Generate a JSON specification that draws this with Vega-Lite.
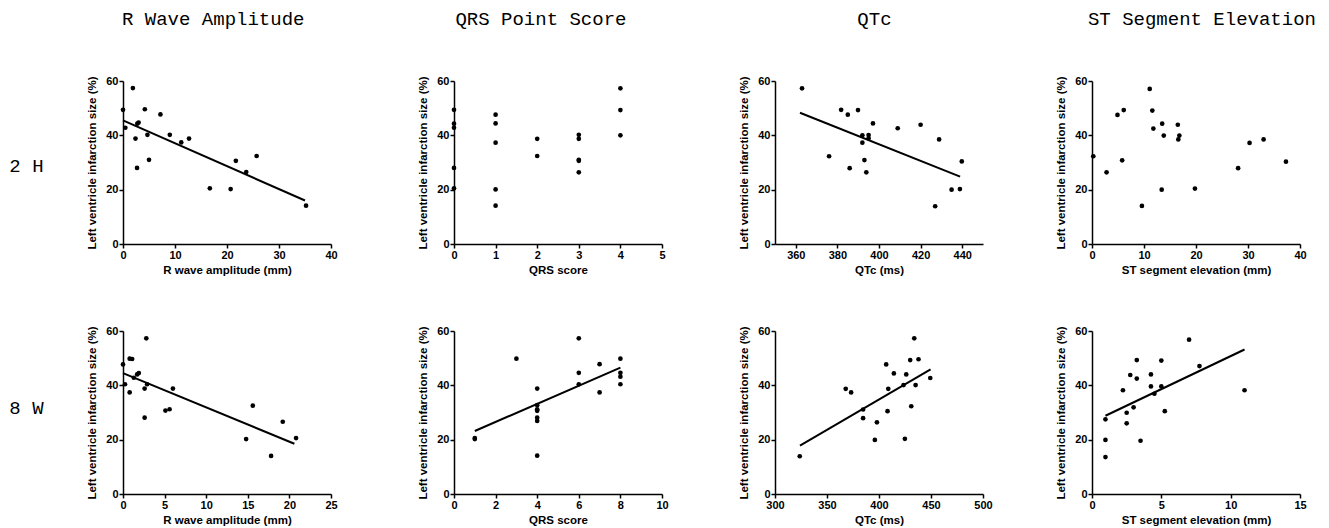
{
  "$schema": "https://vega.github.io/schema/vega-lite/v6.json",
  "padding": {"left": 9, "top": 10, "right": 0, "bottom": 0},
  "background": "white",
  "config": {
    "view": {"stroke": null},
    "axis": {"grid": false, "domainColor": "black", "domainWidth": 1.5, "tickColor": "black", "tickWidth": 1.5, "tickSize": 4, "labelFont": "Liberation Sans", "labelFontWeight": "bold", "labelFontSize": 11, "labelColor": "black", "labelPadding": 1, "titleFont": "Liberation Sans", "titleFontWeight": "bold", "titleFontSize": 11.5, "titleColor": "black"},
    "axisX": {"titlePadding": 4, "labelFlush": false},
    "axisY": {"titlePadding": 8},
    "title": {"font": "Liberation Mono", "fontSize": 19, "fontWeight": "normal", "color": "black"}
  },
  "datasets": {
    "rwave2h": [
      {"value": 0, "infarct": 49.4}, {"value": 1.9, "infarct": 57.4}, {"value": 0.45, "infarct": 42.8}, {"value": 4.2, "infarct": 49.6},
      {"value": 2.75, "infarct": 44.3}, {"value": 3.0, "infarct": 44.7}, {"value": 2.4, "infarct": 38.8}, {"value": 4.7, "infarct": 40.2},
      {"value": 7.2, "infarct": 47.7}, {"value": 9.0, "infarct": 40.2}, {"value": 11.2, "infarct": 37.4}, {"value": 12.7, "infarct": 38.8},
      {"value": 5.0, "infarct": 31.0}, {"value": 2.7, "infarct": 28.0}, {"value": 16.7, "infarct": 20.5}, {"value": 20.7, "infarct": 20.2},
      {"value": 21.7, "infarct": 30.6}, {"value": 23.7, "infarct": 26.5}, {"value": 25.7, "infarct": 32.4}, {"value": 35.2, "infarct": 14.1}
    ],
    "rwave2h_fit": [{"value": 0, "infarct": 45.5}, {"value": 35, "infarct": 16.0}],
    "qrs2h": [
      {"value": 0, "infarct": 49.4}, {"value": 0, "infarct": 44.3}, {"value": 0, "infarct": 42.8}, {"value": 0, "infarct": 28.0}, {"value": 0, "infarct": 20.5},
      {"value": 1, "infarct": 47.6}, {"value": 1, "infarct": 44.4}, {"value": 1, "infarct": 37.3}, {"value": 1, "infarct": 20.1}, {"value": 1, "infarct": 14.1},
      {"value": 2, "infarct": 38.7}, {"value": 2, "infarct": 32.4},
      {"value": 3, "infarct": 40.2}, {"value": 3, "infarct": 38.7}, {"value": 3, "infarct": 31.0}, {"value": 3, "infarct": 30.6}, {"value": 3, "infarct": 26.4},
      {"value": 4, "infarct": 57.3}, {"value": 4, "infarct": 49.3}, {"value": 4, "infarct": 40.0}
    ],
    "qtc2h": [
      {"value": 363, "infarct": 57.3}, {"value": 376, "infarct": 32.3}, {"value": 381.8, "infarct": 49.4}, {"value": 385, "infarct": 47.6},
      {"value": 385.9, "infarct": 27.9}, {"value": 389.9, "infarct": 49.3}, {"value": 392, "infarct": 40.0}, {"value": 392, "infarct": 37.3},
      {"value": 393, "infarct": 30.9}, {"value": 393.9, "infarct": 26.4}, {"value": 395, "infarct": 40.1}, {"value": 395, "infarct": 38.9},
      {"value": 397.1, "infarct": 44.4}, {"value": 409, "infarct": 42.6}, {"value": 420, "infarct": 43.9}, {"value": 427, "infarct": 13.9},
      {"value": 428.9, "infarct": 38.5}, {"value": 434.9, "infarct": 20.0}, {"value": 438.9, "infarct": 20.2}, {"value": 439.8, "infarct": 30.4}
    ],
    "qtc2h_fit": [{"value": 362, "infarct": 48.3}, {"value": 439, "infarct": 24.8}],
    "st2h": [
      {"value": 0.25, "infarct": 32.3}, {"value": 2.8, "infarct": 26.4}, {"value": 4.9, "infarct": 47.5}, {"value": 5.8, "infarct": 30.8},
      {"value": 6.1, "infarct": 49.3}, {"value": 9.6, "infarct": 14.0}, {"value": 11.1, "infarct": 57.1}, {"value": 11.6, "infarct": 49.1},
      {"value": 11.8, "infarct": 42.5}, {"value": 13.4, "infarct": 20.0}, {"value": 13.5, "infarct": 44.3}, {"value": 13.8, "infarct": 39.9},
      {"value": 16.5, "infarct": 43.9}, {"value": 16.6, "infarct": 38.5}, {"value": 16.8, "infarct": 39.9}, {"value": 19.8, "infarct": 20.4},
      {"value": 28.1, "infarct": 27.9}, {"value": 30.3, "infarct": 37.2}, {"value": 33.0, "infarct": 38.5}, {"value": 37.3, "infarct": 30.3}
    ],
    "rwave8w": [
      {"value": 0, "infarct": 47.7}, {"value": 0.24, "infarct": 40.4}, {"value": 0.8, "infarct": 49.8}, {"value": 1.1, "infarct": 49.7},
      {"value": 0.8, "infarct": 37.4}, {"value": 1.3, "infarct": 42.8}, {"value": 1.7, "infarct": 44.0}, {"value": 1.9, "infarct": 44.5},
      {"value": 2.8, "infarct": 57.3}, {"value": 2.6, "infarct": 38.8}, {"value": 2.9, "infarct": 40.4}, {"value": 2.6, "infarct": 28.1},
      {"value": 5.1, "infarct": 30.7}, {"value": 5.6, "infarct": 31.2}, {"value": 6.0, "infarct": 38.8}, {"value": 14.8, "infarct": 20.2},
      {"value": 15.6, "infarct": 32.5}, {"value": 17.8, "infarct": 14.0}, {"value": 19.2, "infarct": 26.6}, {"value": 20.8, "infarct": 20.6}
    ],
    "rwave8w_fit": [{"value": 0, "infarct": 44.5}, {"value": 20.6, "infarct": 18.5}],
    "qrs8w": [
      {"value": 1, "infarct": 20.2}, {"value": 1, "infarct": 20.6}, {"value": 3, "infarct": 49.8},
      {"value": 4, "infarct": 38.8}, {"value": 4, "infarct": 32.7}, {"value": 4, "infarct": 31.2}, {"value": 4, "infarct": 30.6}, {"value": 4, "infarct": 28.1}, {"value": 4, "infarct": 26.9}, {"value": 4, "infarct": 14.1},
      {"value": 6, "infarct": 57.3}, {"value": 6, "infarct": 44.6}, {"value": 6, "infarct": 40.4},
      {"value": 7, "infarct": 47.8}, {"value": 7, "infarct": 37.4},
      {"value": 8, "infarct": 49.8}, {"value": 8, "infarct": 44.6}, {"value": 8, "infarct": 43.2}, {"value": 8, "infarct": 40.4}
    ],
    "qrs8w_fit": [{"value": 1, "infarct": 23.2}, {"value": 8, "infarct": 46.5}],
    "qtc8w": [
      {"value": 323.8, "infarct": 13.9}, {"value": 368, "infarct": 38.7}, {"value": 373.2, "infarct": 37.4}, {"value": 384.7, "infarct": 31.1},
      {"value": 384.7, "infarct": 27.9}, {"value": 396, "infarct": 19.9}, {"value": 398, "infarct": 26.4}, {"value": 406.9, "infarct": 47.7},
      {"value": 408.9, "infarct": 38.7}, {"value": 408.2, "infarct": 30.5}, {"value": 414.3, "infarct": 44.4}, {"value": 423.6, "infarct": 40.1},
      {"value": 426.2, "infarct": 44.0}, {"value": 424.9, "infarct": 20.3}, {"value": 430, "infarct": 49.3}, {"value": 431, "infarct": 32.3},
      {"value": 433.9, "infarct": 57.3}, {"value": 435.2, "infarct": 40.1}, {"value": 438, "infarct": 49.6}, {"value": 449.3, "infarct": 42.7}
    ],
    "qtc8w_fit": [{"value": 324, "infarct": 17.8}, {"value": 449.6, "infarct": 45.9}],
    "st8w": [
      {"value": 0.97, "infarct": 27.5}, {"value": 0.97, "infarct": 19.9}, {"value": 0.97, "infarct": 13.6}, {"value": 2.23, "infarct": 38.2},
      {"value": 2.5, "infarct": 29.9}, {"value": 2.5, "infarct": 26.0}, {"value": 2.76, "infarct": 43.8}, {"value": 3.0, "infarct": 31.9},
      {"value": 3.23, "infarct": 49.3}, {"value": 3.23, "infarct": 42.5}, {"value": 3.5, "infarct": 19.6}, {"value": 4.25, "infarct": 44.0},
      {"value": 4.25, "infarct": 39.6}, {"value": 4.5, "infarct": 36.9}, {"value": 5.0, "infarct": 49.1}, {"value": 5.0, "infarct": 39.6},
      {"value": 5.25, "infarct": 30.5}, {"value": 7.0, "infarct": 56.8}, {"value": 7.75, "infarct": 47.1}, {"value": 11.0, "infarct": 38.2}
    ],
    "st8w_fit": [{"value": 0.97, "infarct": 28.8}, {"value": 11.0, "infarct": 53.2}]
  },
  "spacing": 79,
  "hconcat": [
    {
      "title": {"text": "R Wave Amplitude", "anchor": "middle", "dx": 40, "offset": 46},
      "spacing": 49,
      "vconcat": [
        {
          "width": 208, "height": 163,
          "title": {"text": "2 H", "orient": "left", "angle": 0, "align": "right", "baseline": "middle", "anchor": "middle", "frame": "group", "offset": 9, "dy": 3, "font": "Liberation Mono", "fontSize": 19, "fontWeight": "normal"},
          "layer": [
            {"data": {"name": "rwave2h"}, "mark": {"type": "circle", "size": 22, "color": "black", "opacity": 1},
             "encoding": {
               "x": {"field": "value", "type": "quantitative", "scale": {"domain": [0, 40], "nice": false, "zero": false}, "axis": {"values": [0, 10, 20, 30, 40], "title": "R wave amplitude (mm)"}},
               "y": {"field": "infarct", "type": "quantitative", "scale": {"domain": [0, 60], "nice": false}, "axis": {"values": [0, 20, 40, 60], "title": "Left ventricle infarction size (%)"}}}},
            {"data": {"name": "rwave2h_fit"}, "mark": {"type": "line", "color": "black", "strokeWidth": 2},
             "encoding": {"x": {"field": "value", "type": "quantitative"}, "y": {"field": "infarct", "type": "quantitative"}}}
          ]
        },
        {
          "width": 208, "height": 163,
          "title": {"text": "8 W", "orient": "left", "angle": 0, "align": "right", "baseline": "middle", "anchor": "middle", "frame": "group", "offset": 9, "dy": -5, "font": "Liberation Mono", "fontSize": 19, "fontWeight": "normal"},
          "layer": [
            {"data": {"name": "rwave8w"}, "mark": {"type": "circle", "size": 22, "color": "black", "opacity": 1},
             "encoding": {
               "x": {"field": "value", "type": "quantitative", "scale": {"domain": [0, 25], "nice": false, "zero": false}, "axis": {"values": [0, 5, 10, 15, 20, 25], "title": "R wave amplitude (mm)"}},
               "y": {"field": "infarct", "type": "quantitative", "scale": {"domain": [0, 60], "nice": false}, "axis": {"values": [0, 20, 40, 60], "title": "Left ventricle infarction size (%)"}}}},
            {"data": {"name": "rwave8w_fit"}, "mark": {"type": "line", "color": "black", "strokeWidth": 2},
             "encoding": {"x": {"field": "value", "type": "quantitative"}, "y": {"field": "infarct", "type": "quantitative"}}}
          ]
        }
      ]
    },
    {
      "spacing": 69,
      "hconcat": [
        {
          "title": {"text": "QRS Point Score", "anchor": "middle", "dx": -2, "offset": 46},
          "spacing": 49,
          "vconcat": [
            {
              "width": 208, "height": 163,
              "layer": [
                {"data": {"name": "qrs2h"}, "mark": {"type": "circle", "size": 22, "color": "black", "opacity": 1},
                 "encoding": {
                   "x": {"field": "value", "type": "quantitative", "scale": {"domain": [0, 5], "nice": false, "zero": false}, "axis": {"values": [0, 1, 2, 3, 4, 5], "title": "QRS score"}},
                   "y": {"field": "infarct", "type": "quantitative", "scale": {"domain": [0, 60], "nice": false}, "axis": {"values": [0, 20, 40, 60], "title": "Left ventricle infarction size (%)"}}}}
              ]
            },
            {
              "width": 208, "height": 163,
              "layer": [
                {"data": {"name": "qrs8w"}, "mark": {"type": "circle", "size": 22, "color": "black", "opacity": 1},
                 "encoding": {
                   "x": {"field": "value", "type": "quantitative", "scale": {"domain": [0, 10], "nice": false, "zero": false}, "axis": {"values": [0, 2, 4, 6, 8, 10], "title": "QRS score"}},
                   "y": {"field": "infarct", "type": "quantitative", "scale": {"domain": [0, 60], "nice": false}, "axis": {"values": [0, 20, 40, 60], "title": "Left ventricle infarction size (%)"}}}},
                {"data": {"name": "qrs8w_fit"}, "mark": {"type": "line", "color": "black", "strokeWidth": 2},
                 "encoding": {"x": {"field": "value", "type": "quantitative"}, "y": {"field": "infarct", "type": "quantitative"}}}
              ]
            }
          ]
        },
        {
          "spacing": 62,
          "hconcat": [
            {
              "title": {"text": "QTc", "anchor": "middle", "dx": 9, "offset": 46},
              "spacing": 49,
              "vconcat": [
                {
                  "width": 208, "height": 163,
                  "layer": [
                    {"data": {"name": "qtc2h"}, "mark": {"type": "circle", "size": 22, "color": "black", "opacity": 1},
                     "encoding": {
                       "x": {"field": "value", "type": "quantitative", "scale": {"domain": [350, 450], "nice": false, "zero": false}, "axis": {"values": [360, 380, 400, 420, 440], "title": "QTc (ms)"}},
                       "y": {"field": "infarct", "type": "quantitative", "scale": {"domain": [0, 60], "nice": false}, "axis": {"values": [0, 20, 40, 60], "title": "Left ventricle infarction size (%)"}}}},
                    {"data": {"name": "qtc2h_fit"}, "mark": {"type": "line", "color": "black", "strokeWidth": 2},
                     "encoding": {"x": {"field": "value", "type": "quantitative"}, "y": {"field": "infarct", "type": "quantitative"}}}
                  ]
                },
                {
                  "width": 208, "height": 163,
                  "layer": [
                    {"data": {"name": "qtc8w"}, "mark": {"type": "circle", "size": 22, "color": "black", "opacity": 1},
                     "encoding": {
                       "x": {"field": "value", "type": "quantitative", "scale": {"domain": [300, 500], "nice": false, "zero": false}, "axis": {"values": [300, 350, 400, 450, 500], "title": "QTc (ms)"}},
                       "y": {"field": "infarct", "type": "quantitative", "scale": {"domain": [0, 60], "nice": false}, "axis": {"values": [0, 20, 40, 60], "title": "Left ventricle infarction size (%)"}}}},
                    {"data": {"name": "qtc8w_fit"}, "mark": {"type": "line", "color": "black", "strokeWidth": 2},
                     "encoding": {"x": {"field": "value", "type": "quantitative"}, "y": {"field": "infarct", "type": "quantitative"}}}
                  ]
                }
              ]
            },
            {
              "title": {"text": "ST Segment Elevation", "anchor": "middle", "dx": 21, "offset": 46},
              "spacing": 49,
              "vconcat": [
                {
                  "width": 208, "height": 163,
                  "layer": [
                    {"data": {"name": "st2h"}, "mark": {"type": "circle", "size": 22, "color": "black", "opacity": 1},
                     "encoding": {
                       "x": {"field": "value", "type": "quantitative", "scale": {"domain": [0, 40], "nice": false, "zero": false}, "axis": {"values": [0, 10, 20, 30, 40], "title": "ST segment elevation (mm)"}},
                       "y": {"field": "infarct", "type": "quantitative", "scale": {"domain": [0, 60], "nice": false}, "axis": {"values": [0, 20, 40, 60], "title": "Left ventricle infarction size (%)"}}}}
                  ]
                },
                {
                  "width": 208, "height": 163,
                  "layer": [
                    {"data": {"name": "st8w"}, "mark": {"type": "circle", "size": 22, "color": "black", "opacity": 1},
                     "encoding": {
                       "x": {"field": "value", "type": "quantitative", "scale": {"domain": [0, 15], "nice": false, "zero": false}, "axis": {"values": [0, 5, 10, 15], "title": "ST segment elevation (mm)"}},
                       "y": {"field": "infarct", "type": "quantitative", "scale": {"domain": [0, 60], "nice": false}, "axis": {"values": [0, 20, 40, 60], "title": "Left ventricle infarction size (%)"}}}},
                    {"data": {"name": "st8w_fit"}, "mark": {"type": "line", "color": "black", "strokeWidth": 2},
                     "encoding": {"x": {"field": "value", "type": "quantitative"}, "y": {"field": "infarct", "type": "quantitative"}}}
                  ]
                }
              ]
            }
          ]
        }
      ]
    }
  ]
}
